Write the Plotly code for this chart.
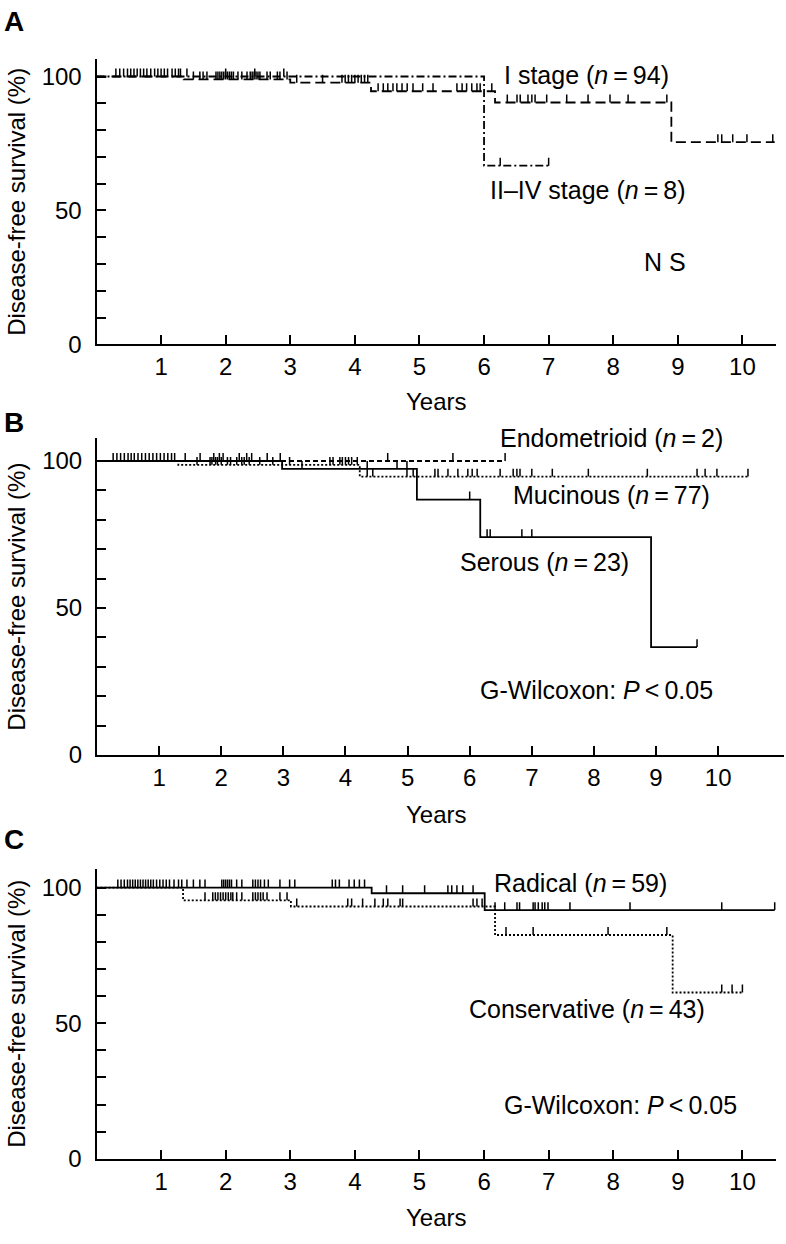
import plotly.graph_objects as go
from bisect import bisect_right

# ---------------- DATA ----------------
# Panel A: stage
a_stage1_t = [0, 1.35, 3.0, 4.25, 6.17, 8.9, 10.5]
a_stage1_s = [100, 98.9, 97.7, 94.5, 90.3, 75.5, 75.5]
a_stage1_cens = [0.3, 0.36, 0.42, 0.48, 0.53, 0.58, 0.63, 0.68, 0.73, 0.78, 0.84, 0.9, 0.95, 1.0,
                 1.05, 1.1, 1.17, 1.22, 1.27, 1.3,
                 1.5, 1.6, 1.65, 1.71, 1.85, 1.88, 1.91, 1.94, 1.97, 2.0, 2.03, 2.06, 2.09, 2.12,
                 2.19, 2.25, 2.33, 2.38, 2.41, 2.44, 2.47, 2.5, 2.53, 2.64, 2.69, 2.8, 2.84, 2.95,
                 3.1, 3.5, 3.8, 3.85, 3.9, 3.95, 4.0, 4.05, 4.1, 4.15, 4.2,
                 4.36, 4.44, 4.51, 4.59, 4.65, 4.73, 4.81, 4.9, 5.05, 5.21, 5.58, 5.66, 5.73, 5.81,
                 5.89, 5.94, 6.12,
                 6.36, 6.51, 6.56, 6.68, 6.74, 6.79, 6.97, 7.28, 7.61, 7.95, 8.23, 8.83,
                 9.62, 9.68, 9.85, 10.07, 10.47]
a_stage2_t = [0, 6.0, 7.0]
a_stage2_s = [100, 66.7, 66.7]
a_stage2_cens = [1.4, 2.0, 2.45, 2.9, 6.25, 7.0]

# Panel B: histology
b_endo_t = [0, 6.57]
b_endo_s = [100, 100]
b_endo_cens = [4.68, 5.73, 6.57]
b_muc_t = [0, 1.31, 4.23, 10.48]
b_muc_s = [100, 98.7, 94.7, 94.7]
b_muc_cens = [0.26, 0.32, 0.38, 0.44, 0.5, 0.55, 0.6, 0.66, 0.72, 0.78, 0.84, 0.9, 0.96, 1.02,
              1.08, 1.14, 1.2, 1.25,
              1.61, 1.82, 1.85, 1.91, 1.94, 2.0, 2.1, 2.15, 2.25, 2.33, 2.37, 2.45, 2.62, 2.83,
              3.1, 3.75, 3.8, 3.91, 3.95, 4.0, 4.05, 4.1, 4.19,
              4.35, 4.44, 4.99, 5.09, 5.44, 5.49, 5.65, 5.81, 5.97, 6.04, 6.12, 6.49, 6.7, 6.76,
              6.81, 7.0, 7.33, 7.91, 8.86, 9.66, 9.79, 9.98, 10.48]
b_ser_t = [0, 2.98, 5.15, 6.17, 8.92, 9.66]
b_ser_s = [100, 97.3, 86.9, 74.1, 36.7, 36.7]
b_ser_cens = [1.42, 1.66, 1.88, 1.97, 2.03, 2.29, 2.41, 2.49, 2.74, 2.95,
              3.3, 4.35, 4.83, 4.99, 6.0, 6.28, 6.33, 6.84, 7.0, 9.66]

# Panel C: surgery
c_rad_t = [0, 4.26, 6.01, 10.5]
c_rad_s = [100, 97.9, 91.7, 91.7]
c_rad_cens = [0.33, 0.43, 0.52, 0.6, 0.68, 0.76, 0.84, 0.93, 1.03, 1.13, 1.27,
              1.4, 1.5, 1.6, 1.68, 1.94, 1.97, 2.0, 2.03, 2.06, 2.09, 2.17, 2.25, 2.42, 2.46,
              2.5, 2.54, 2.6, 2.66, 2.84, 2.99, 3.07, 3.65, 3.7, 3.76, 3.91, 3.99, 4.07, 4.15,
              4.49, 4.74, 5.08, 5.44, 5.5, 5.58, 5.67, 5.83,
              6.17, 6.32, 6.51, 6.55, 6.76, 6.79, 6.84, 6.9, 6.94, 6.99, 7.33, 8.26, 9.68, 10.5]
c_con_t = [0, 1.34, 3.01, 6.17, 8.92, 10.0]
c_con_s = [100, 95.3, 93.0, 82.5, 61.3, 61.3]
c_con_cens = [0.38, 0.48, 0.56, 0.64, 0.72, 0.8, 0.88, 0.98, 1.08, 1.2, 1.32,
              1.68, 1.8, 1.84, 1.88, 1.92, 1.96, 2.0, 2.04, 2.08, 2.11, 2.17, 2.25, 2.42, 2.46,
              2.5, 2.54, 2.58, 2.64, 2.84, 2.95,
              3.1, 3.89, 3.95, 4.12, 4.31, 4.44, 4.51, 4.7, 4.74, 5.83, 5.89, 5.97,
              6.34, 6.76, 7.92, 8.83, 9.68, 9.84, 10.0]

x_tick_vals = [1, 2, 3, 4, 5, 6, 7, 8, 9, 10]
y_tick_vals = [0, 10, 20, 30, 40, 50, 60, 70, 80, 90, 100]
y_tick_text = ["0", "", "", "", "", "50", "", "", "", "", "100"]

# ---------------- LAYOUT ----------------
W, H = 786, 1244
FONT = "Liberation Sans, Arial, Helvetica, sans-serif"
FS = 24
FS_ANN = 25

# panel pixel boxes: (left, right, top, bottom), x range max, y range max
panels = {
    "A": dict(l=96.5, r=776, t=60, b=348, xmax=10.52, ymax=106.4),
    "B": dict(l=97, r=784, t=443, b=763, xmax=11.06, ymax=107.7),
    "C": dict(l=96.5, r=776, t=878, b=1171, xmax=10.52, ymax=106.9),
}
TICK_PX = 8

fig = go.Figure()


def step_level(times, surv, t):
    i = bisect_right(times, t) - 1
    return surv[max(i, 0)]


def add_curve(ax_idx, times, surv, cens, dash, key):
    suffix = "" if ax_idx == 1 else str(ax_idx)
    p = panels[key]
    ppu = (p["b"] - p["t"]) / p["ymax"]
    h = TICK_PX / ppu
    fig.add_trace(go.Scatter(
        x=times, y=surv, mode="lines", line=dict(color="black", width=1.8, dash=dash, shape="hv"),
        xaxis="x" + suffix, yaxis="y" + suffix, showlegend=False, hoverinfo="skip"))
    xs, ys = [], []
    for t in cens:
        s = step_level(times, surv, t)
        xs += [t, t, None]
        ys += [s, s + h, None]
    fig.add_trace(go.Scatter(
        x=xs, y=ys, mode="lines", line=dict(color="black", width=1.5),
        xaxis="x" + suffix, yaxis="y" + suffix, showlegend=False, hoverinfo="skip"))


add_curve(1, a_stage2_t, a_stage2_s, a_stage2_cens, "8px,3px,2px,3px", "A")
add_curve(1, a_stage1_t, a_stage1_s, a_stage1_cens, "10px,5px", "A")
add_curve(2, b_endo_t, b_endo_s, b_endo_cens, "5px,3px", "B")
add_curve(2, b_muc_t, b_muc_s, b_muc_cens, "2px,2px", "B")
add_curve(2, b_ser_t, b_ser_s, b_ser_cens, "solid", "B")
add_curve(3, c_rad_t, c_rad_s, c_rad_cens, "solid", "C")
add_curve(3, c_con_t, c_con_s, c_con_cens, "2px,2px", "C")

layout = dict(
    width=W, height=H, margin=dict(l=0, r=0, t=0, b=0),
    paper_bgcolor="white", plot_bgcolor="white", showlegend=False,
    font=dict(family=FONT, size=FS, color="black"), hovermode=False,
)

for i, key in enumerate(["A", "B", "C"], start=1):
    p = panels[key]
    sfx = "" if i == 1 else str(i)
    layout["xaxis" + sfx] = dict(
        domain=[p["l"] / W, p["r"] / W], range=[0, p["xmax"]], anchor="y" + sfx,
        showline=True, linecolor="black", linewidth=2, showgrid=False, zeroline=False,
        ticks="inside", ticklen=9, tickwidth=2, tickcolor="black",
        tickvals=x_tick_vals, ticktext=[str(v) for v in x_tick_vals],
        tickfont=dict(size=FS, family=FONT, color="black"), ticklabelstandoff=0,
        fixedrange=True)
    layout["yaxis" + sfx] = dict(
        domain=[(H - p["b"]) / H, (H - p["t"]) / H], range=[0, p["ymax"]], anchor="x" + sfx,
        showline=True, linecolor="black", linewidth=2, showgrid=False, zeroline=False,
        ticks="inside", ticklen=9, tickwidth=2, tickcolor="black",
        tickvals=y_tick_vals, ticktext=y_tick_text,
        tickfont=dict(size=FS, family=FONT, color="black"), ticklabelstandoff=8,
        fixedrange=True)

ann = []
for key, cy in [("A", 22), ("B", 427), ("C", 848)]:
    ann.append(dict(text="<b>%s</b>" % key, x=2 / W, y=1 - cy / H, xref="paper", yref="paper",
                    xanchor="left", yanchor="middle", showarrow=False, font=dict(size=28)))
for key in ["A", "B", "C"]:
    p = panels[key]
    cy = (p["t"] + p["b"]) / 2
    ann.append(dict(text="Disease-free survival (%)", x=17 / W, y=1 - cy / H, xref="paper",
                    yref="paper", textangle=-90, xanchor="center", yanchor="middle",
                    showarrow=False, font=dict(size=FS)))
for key, cy in [("A", 406), ("B", 823), ("C", 1230)]:
    ann.append(dict(text="Years", x=437 / W, y=1 - cy / H, xref="paper", yref="paper",
                    xanchor="center", yanchor="middle", showarrow=False, font=dict(size=FS)))

N = "<i>n</i>\u2009=\u2009"
labels = [
    ("x", "y", 7.58, 100.4, "I stage (%s94)" % N),
    ("x", "y", 7.61, 57.6, "II\u2013IV stage (%s8)" % N),
    ("x", "y", 8.8, 30.6, "N S"),
    ("x2", "y2", 8.29, 107.7, "Endometrioid (%s2)" % N),
    ("x2", "y2", 8.28, 88.6, "Mucinous (%s77)" % N),
    ("x2", "y2", 7.21, 65.7, "Serous (%s23)" % N),
    ("x2", "y2", 8.04, 22.2, "G-Wilcoxon: <i>P</i>\u2009<\u20090.05"),
    ("x3", "y3", 7.49, 101.8, "Radical (%s59)" % N),
    ("x3", "y3", 7.59, 55.1, "Conservative (%s43)" % N),
    ("x3", "y3", 8.12, 19.7, "G-Wilcoxon: <i>P</i>\u2009<\u20090.05"),
]
for xr, yr, x, y, t in labels:
    ann.append(dict(text=t, x=x, y=y, xref=xr, yref=yr, xanchor="center", yanchor="middle",
                    showarrow=False, font=dict(size=FS_ANN)))

layout["annotations"] = ann
fig.update_layout(**layout)

page_fix = "document.body.style.margin='0';document.body.style.overflow='hidden';"
fig.write_html("out.html", config={"displayModeBar": False, "staticPlot": True},
               post_script=page_fix)
